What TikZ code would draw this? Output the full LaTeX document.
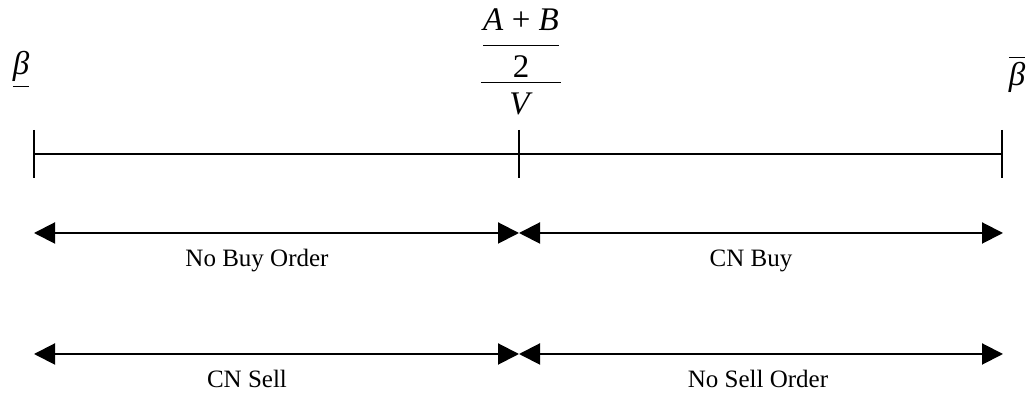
\documentclass[tikz,border=0pt]{standalone}
\usepackage{amsmath}
\usepackage{fontspec}
\setmainfont{Liberation Serif}
\usetikzlibrary{arrows.meta}
\begin{document}
\begin{tikzpicture}[
            x=0.5pt, y=-0.5pt,
            every node/.style={inner sep=0pt, font=\fontsize{12.5}{15}\selectfont},
            mathlbl/.style={font=\fontsize{16.5}{19}\selectfont},
            bar/.style={line width=0.8pt},
            span/.style={line width=1pt, {Triangle[length=10.5pt,width=10.5pt]}-{Triangle[length=10.5pt,width=10.5pt]}}
            ]
        \useasboundingbox (0,0) rectangle (1034,399);
        \coordinate (lo) at (34,154);
        \coordinate (mid) at (519,154);
        \coordinate (hi) at (1002,154);
        \draw[bar] (lo) -- (mid) -- (hi);
        \foreach \p in {lo,mid,hi}
            \draw[bar] ([yshift=12pt]\p) -- ([yshift=-12pt]\p);
        \node[mathlbl] (betalo) at (21,70) {$\underline{\hbox{\textit{β}}}$};
        \node[mathlbl] (betahi) at (1017,74) {$\overline{\hbox{\textit{β}}}$};
        \node[mathlbl] (ratio) at (521,62) {$\dfrac{\dfrac{\hbox{\textit{A} + \textit{B}}}{\hbox{2}}}{\hbox{\textit{V}}}$};
        \coordinate (buyL) at (34,233);
        \coordinate (buyM) at (519,233);
        \coordinate (buyR) at (1003,233);
        \coordinate (sellL) at (34,354);
        \coordinate (sellM) at (519,354);
        \coordinate (sellR) at (1003,354);
        \draw[span] (buyL) -- (buyM);
        \draw[span] (buyM) -- (buyR);
        \draw[span] (sellL) -- (sellM);
        \draw[span] (sellM) -- (sellR);
        \node[anchor=base] (nobuy) at (257,267) {No Buy Order};
        \node[anchor=base] (cnbuy) at (751,267) {CN Buy};
        \node[anchor=base] (cnsell) at (247,388) {CN Sell};
        \node[anchor=base] (nosell) at (758,388) {No Sell Order};
\end{tikzpicture}
\end{document}
